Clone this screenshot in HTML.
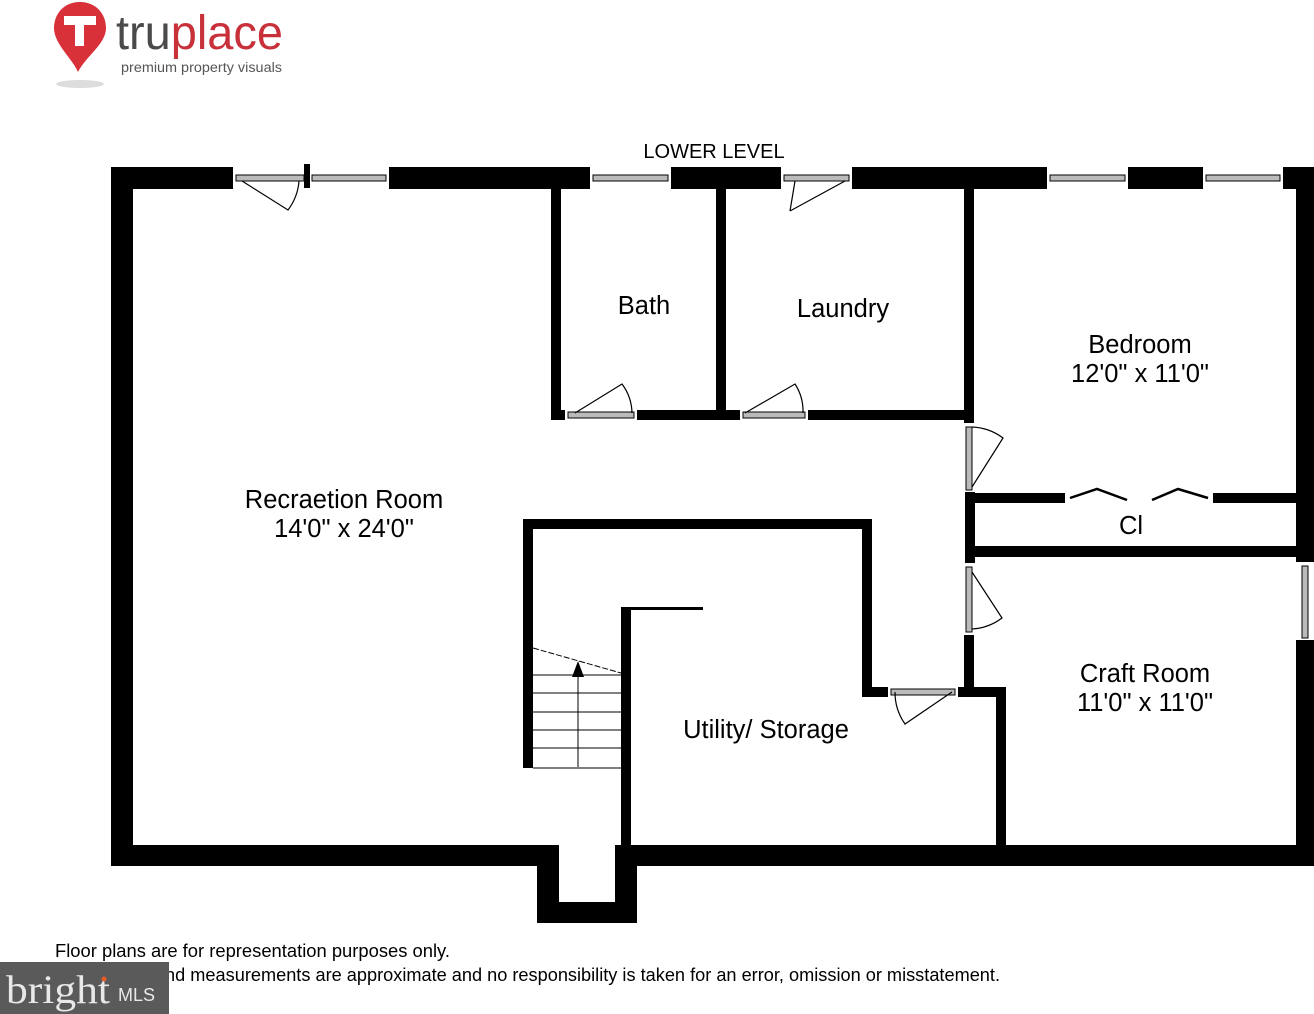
<!DOCTYPE html>
<html><head><meta charset="utf-8"><style>
html,body{margin:0;padding:0;background:#fff;width:1314px;height:1014px;overflow:hidden}
svg{display:block}
</style></head><body>
<svg width="1314" height="1014" viewBox="0 0 1314 1014" xmlns="http://www.w3.org/2000/svg" font-family="Liberation Sans, Arial, sans-serif">
<!-- logo -->
<ellipse cx="80" cy="84" rx="24" ry="4" fill="#ddd"/>
<path d="M80 2 C62 2 54 16 54 28 C54 44 72 58 78 72 C86 56 106 44 106 28 C106 14 96 2 80 2Z" fill="#d8313a"/>
<rect x="64" y="16" width="32" height="9" fill="#fff"/>
<rect x="75" y="16" width="9" height="30" fill="#fff"/>
<text x="116" y="49" font-size="48" font-family="Liberation Sans, sans-serif" fill="#4a4a4a" textLength="167" lengthAdjust="spacingAndGlyphs">tru<tspan fill="#c8303a">place</tspan></text>
<text x="121" y="72" font-size="13.5" fill="#555" textLength="161" lengthAdjust="spacingAndGlyphs">premium property visuals</text>

<text x="714" y="158" font-size="20" text-anchor="middle" fill="#000">LOWER LEVEL</text>

<g fill="#000">
<rect x="111" y="167" width="122" height="22"/>
<rect x="304" y="164" width="6" height="24"/>
<rect x="389" y="167" width="201" height="22"/>
<rect x="671" y="167" width="110" height="22"/>
<rect x="852" y="167" width="195" height="22"/>
<rect x="1128" y="167" width="75" height="22"/>
<rect x="1283" y="167" width="31" height="22"/>
<rect x="111" y="167" width="22" height="699"/>
<rect x="111" y="845" width="448" height="21"/>
<rect x="615" y="845" width="699" height="21"/>
<rect x="537" y="845" width="22" height="78"/>
<rect x="615" y="855" width="22" height="68"/>
<rect x="537" y="902" width="100" height="21"/>
<rect x="1296" y="167" width="18" height="395"/>
<rect x="1296" y="640" width="18" height="226"/>
<rect x="551" y="189" width="10" height="231"/>
<rect x="716" y="189" width="10" height="231"/>
<rect x="964" y="189" width="10" height="234"/>
<rect x="551" y="410" width="14" height="10"/>
<rect x="637" y="410" width="103" height="10"/>
<rect x="808" y="410" width="166" height="10"/>
<rect x="965" y="492" width="10" height="71"/>
<rect x="965" y="493" width="100" height="10"/>
<rect x="1213" y="493" width="83" height="10"/>
<rect x="965" y="546" width="331" height="11"/>
<rect x="964" y="635" width="10" height="62"/>
<rect x="523" y="519" width="349" height="10"/>
<rect x="523" y="519" width="10" height="249"/>
<rect x="862" y="519" width="10" height="178"/>
<rect x="862" y="687" width="26" height="10"/>
<rect x="958" y="687" width="48" height="10"/>
<rect x="996" y="687" width="10" height="168"/>
<rect x="621" y="607" width="10" height="248"/>
<rect x="621" y="607" width="82" height="3"/>
</g>

<g fill="#bbb" stroke="#000" stroke-width="1">
<rect x="236" y="175" width="68" height="6"/>
<rect x="312" y="175" width="74" height="6"/>
<rect x="593" y="175" width="75" height="6"/>
<rect x="784" y="175" width="65" height="6"/>
<rect x="1050" y="175" width="75" height="6"/>
<rect x="1206" y="175" width="74" height="6"/>
<rect x="568" y="412" width="66" height="6"/>
<rect x="743" y="412" width="62" height="6"/>
<rect x="966" y="427" width="6" height="63"/>
<rect x="966" y="567" width="6" height="65"/>
<rect x="891" y="689" width="64" height="6"/>
<rect x="1302" y="566" width="6" height="72"/>
</g>
<g fill="none" stroke="#000" stroke-width="1.2">
<path d="M242 181 L288 210 A55 55 0 0 0 299 181"/>
<path d="M795 181 L790 211 M790 211 L845 181"/>
<path d="M575 413 L622 384 A50 50 0 0 1 632 413"/>
<path d="M745 413 L795 384 A50 50 0 0 1 803 413"/>
<path d="M972 487 L1003 438 A55 55 0 0 0 972 427"/>
<path d="M972 572 L1002 618 A55 55 0 0 1 972 629"/>
<path d="M952 692 L905 724 A55 55 0 0 1 895 692"/>
<path d="M1070 498 L1097 489 L1127 500 M1152 500 L1178 489 L1208 498" stroke-width="2.5"/>
</g>
<g stroke="#000" stroke-width="1" fill="none">
<path d="M533 648 L621 673" stroke-dasharray="6 2"/>
<path d="M533 675 H621 M533 693 H621 M533 712 H621 M533 730 H621 M533 748 H621 M533 768 H621"/>
<path d="M578 767 V675"/>
</g>
<polygon points="578,661 572,677 584,677" fill="#000"/>

<g font-size="25.5" fill="#000" text-anchor="middle">
<text x="644" y="314">Bath</text>
<text x="843" y="317">Laundry</text>
<text x="1140" y="353">Bedroom</text>
<text x="1140" y="382">12'0" x 11'0"</text>
<text x="344" y="508">Recraetion Room</text>
<text x="344" y="537">14'0" x 24'0"</text>
<text x="1131" y="534">Cl</text>
<text x="1145" y="682">Craft Room</text>
<text x="1145" y="711">11'0" x 11'0"</text>
<text x="766" y="738">Utility/ Storage</text>
</g>
<g font-size="18" fill="#000">
<text x="55" y="957" textLength="395" lengthAdjust="spacingAndGlyphs">Floor plans are for representation purposes only.</text>
<text x="55" y="981" textLength="945" lengthAdjust="spacingAndGlyphs">Dimensions and measurements are approximate and no responsibility is taken for an error, omission or misstatement.</text>
</g>
<rect x="0" y="962" width="169" height="52" fill="#5a5a5a"/>
<text x="6" y="1003" font-size="40" font-family="Liberation Serif, serif" fill="#e8e8e8" textLength="104" lengthAdjust="spacingAndGlyphs">bright</text>
<text x="118" y="1001" font-size="18" fill="#e8e8e8">MLS</text>
<circle cx="104" cy="979" r="2.5" fill="#e85a2a"/>
</svg>
</body></html>
